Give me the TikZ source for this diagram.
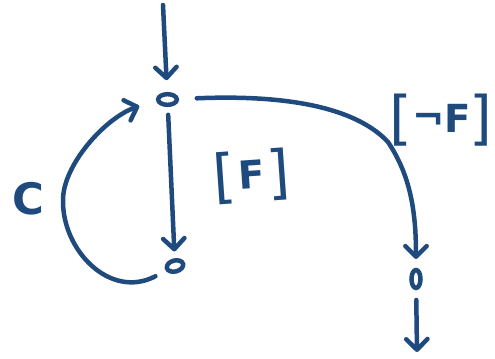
\documentclass[tikz,border=0pt]{standalone}
\usepackage{fontspec}
\setmainfont{DejaVu Sans}
\usetikzlibrary{arrows.meta,shapes.geometric}
\definecolor{ink}{RGB}{31,74,126}
% tall brackets around the guard labels
\newcommand\brk[1]{{\fontsize{50}{50}\selectfont\mdseries #1}}
\begin{document}
\begin{tikzpicture}[x=0.03cm,y=-0.03cm,
  inkline/.style={draw=ink,line width=0.135cm,line cap=round,line join=round},
  arr/.style={inkline,-{Straight Barb[length=0.32cm,width=0.64cm,round]}},
  place/.style={draw=ink,line width=0.135cm,ellipse,inner sep=0pt,outer sep=0pt},
  lbl/.style={text=ink,inner sep=0pt,font=\fontsize{33}{34}\selectfont\bfseries}]
\useasboundingbox (0,0) rectangle (495,359);

% places
\node[place,minimum width=0.56cm,minimum height=0.32cm] (top) at (167.5,99.5) {};
\node[place,minimum width=0.5cm,minimum height=0.33cm,rotate=15] (bl) at (175,266) {};
\node[place,minimum width=0.27cm,minimum height=0.54cm] (br) at (416,279) {};
\coordinate (in) at (163,5);
\coordinate (out) at (417,352);

% connectors
\draw[arr,shorten >=0.42cm] (in) -- (top);
\draw[arr,shorten <=0.3cm,shorten >=0.27cm] (top) -- (bl);
\draw[arr,shorten <=0.42cm,shorten >=0.6cm] (bl) .. controls (110,300) and (62,250) .. (63,200)
  .. controls (63,165) and (105,118) .. (top.180);
\draw[arr,shorten <=0.6cm,shorten >=0.33cm] (top) .. controls (300,94) and (360,112) .. (388,142)
  .. controls (410,175) and (416,210) .. (br);
\draw[arr,shorten <=0.36cm] (br) -- (out);

% labels
\node[lbl,font=\fontsize{37}{38}\selectfont\bfseries] (c) at (28,199) {C};
\node[lbl,rotate=4] (f) at (252,176) {\brk{[}\kern2pt\raisebox{5pt}{F}\kern2pt\brk{]}};
\node[lbl] (nf) at (441,120) {\brk{[}\kern0pt\raisebox{7pt}{¬}\raisebox{5pt}{F}\kern-1pt\brk{]}};
\end{tikzpicture}
\end{document}
